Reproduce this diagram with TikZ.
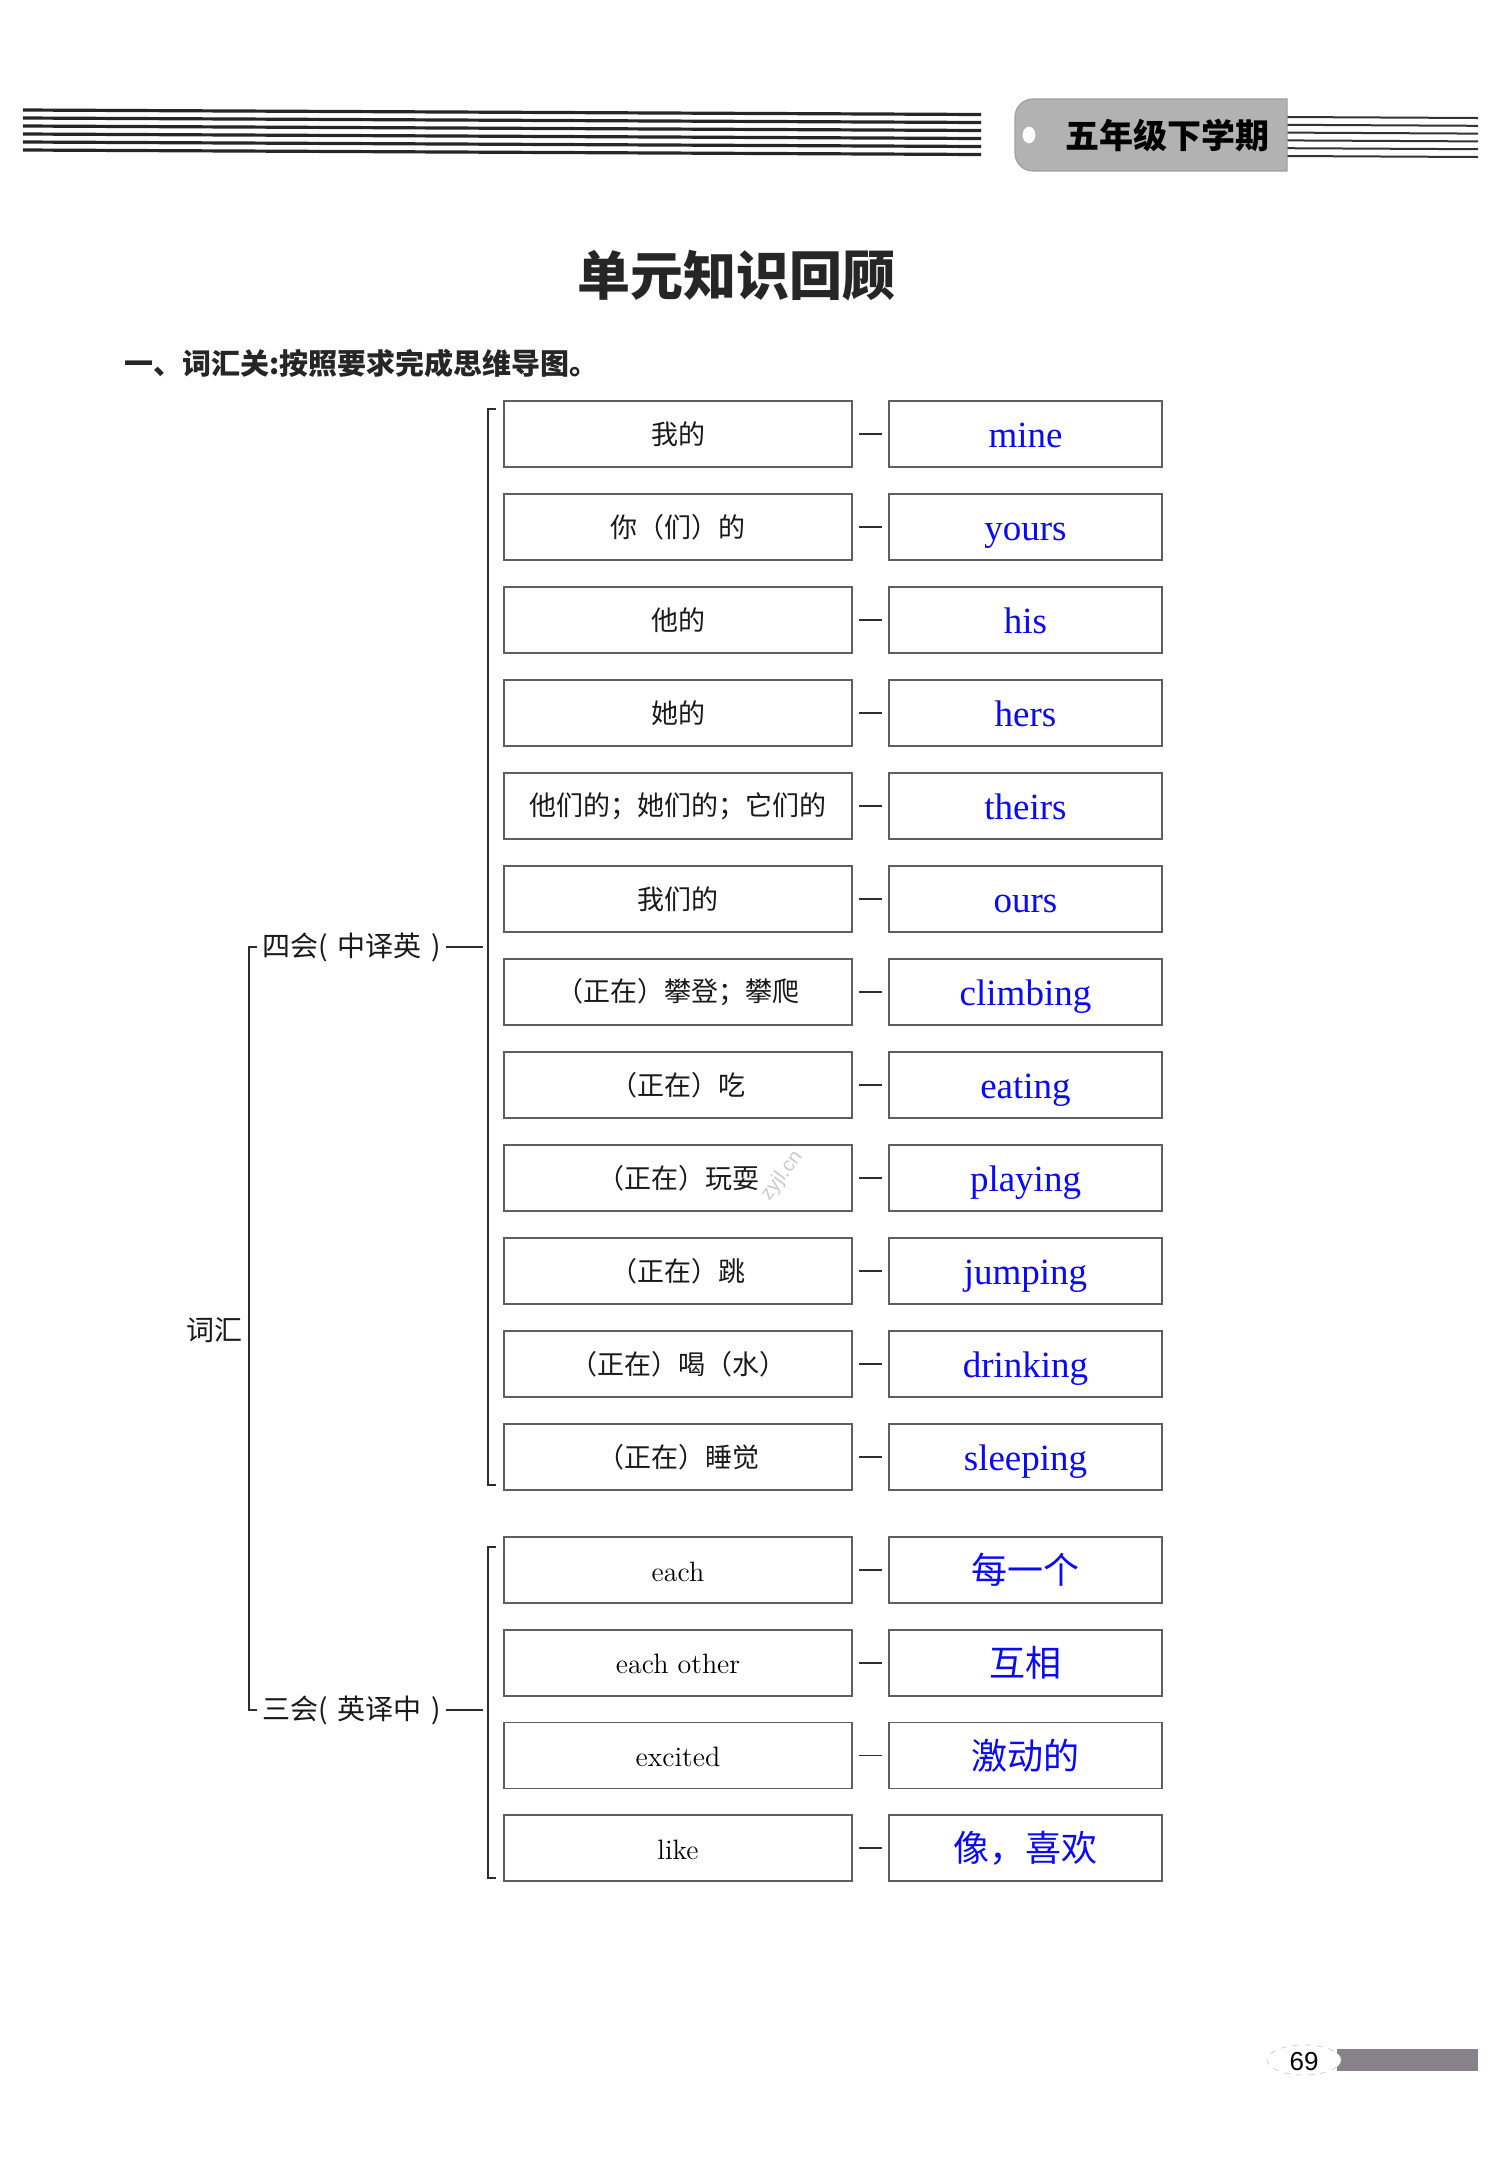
\documentclass[tikz,border=0pt]{standalone}
\usepackage{fontspec}
\newfontfamily\cjk{Noto Sans CJK SC}
\newfontfamily\tnr{Liberation Serif}
\newfontfamily\sansf{Liberation Sans}
\definecolor{ansblue}{RGB}{10,10,245}
\definecolor{boxc}{RGB}{95,95,95}
\definecolor{brkc}{RGB}{45,45,45}
\definecolor{tagc}{RGB}{178,178,178}
\definecolor{barc}{RGB}{135,130,138}
\begin{document}
\begin{tikzpicture}[x=0.5pt,y=-0.5pt,
  lbox/.style={draw=boxc, line width=0.8pt, minimum width=174pt, minimum height=33pt, inner sep=0pt},
  rbox/.style={draw=boxc, line width=0.8pt, minimum width=136.5pt, minimum height=33pt, inner sep=0pt},
  cn/.style={font=\cjk\fontsize{13.5pt}{16pt}\selectfont, text=black!90},
  en/.style={font=\fontsize{14pt}{16pt}\selectfont, text=black, text height=12pt, text depth=1pt},
  ans/.style={text=ansblue, font=\tnr\fontsize{18.5pt}{22pt}\selectfont, text height=15pt, text depth=2pt},
  ansc/.style={text=ansblue, font=\cjk\fontsize{18pt}{22pt}\selectfont},
  conn/.style={draw=brkc, line width=0.8pt},
  brk/.style={draw=brkc, line width=1pt},
  hline/.style={draw=black!85, line width=1.6pt},
  hline2/.style={draw=black!80, line width=1pt}
]
\useasboundingbox (0,0) rectangle (1500,2165);
\fill[white] (0,0) rectangle (1500,2165);

% ---------- header ----------
\foreach \k in {0,...,5}{
  \draw[hline] (23,{110+8*\k}) -- (981,{114.5+8*\k});
  \draw[hline2] (1287,{117+7.8*\k}) -- (1478,{118+7.8*\k});
}
\fill[tagc, draw=gray!75, line width=0.6pt]
  (1287,99) [rounded corners=9pt] -- (1015,99) -- (1015,171) [sharp corners] -- (1287,171) -- cycle;
\fill[white, draw=gray!60, line width=0.5pt] (1029,135) ellipse [x radius=3.5pt, y radius=4.5pt];
\node[font=\cjk\bfseries\fontsize{17pt}{20pt}\selectfont, inner sep=0pt] (tag) at (1167,135) {五年级下学期};

% ---------- titles ----------
\node[font=\cjk\bfseries\fontsize{26.5pt}{30pt}\selectfont, text=black!85] (title) at (736,276) {单元知识回顾};
\node[font=\cjk\bfseries\fontsize{14.5pt}{17pt}\selectfont, anchor=west, inner sep=0pt, text=black!85] (sub) at (124,363) {一、词汇关:按照要求完成思维导图。};

% ---------- group 1 ----------
\foreach \i/\a/\b in {1/我的/mine, 2/你（们）的/yours, 3/他的/his, 4/她的/hers,
  5/他们的；她们的；它们的/theirs, 6/我们的/ours, 7/（正在）攀登；攀爬/climbing,
  8/（正在）吃/eating, 9/（正在）玩耍/playing, 10/（正在）跳/jumping,
  11/（正在）喝（水）/drinking, 12/（正在）睡觉/sleeping}{
  \pgfmathsetmacro\yy{434+93*(\i-1)}
  \node[lbox, cn] (L\i) at (678,\yy) {\a};
  \node[rbox, ans] (R\i) at (1025.5,\yy) {\b};
  \draw[conn] ([xshift=3pt]L\i.east) -- ([xshift=-3pt]R\i.west);
}

% ---------- group 2 ----------
\foreach \i/\a/\b in {1/each/每一个, 2/each other/互相, 3/excited/激动的, 4/like/像，喜欢}{
  \pgfmathsetmacro\yy{1570+92.7*(\i-1)}
  \node[lbox, en] (P\i) at (678,\yy) {\a};
  \node[rbox, ansc] (Q\i) at (1025.5,\yy) {\b};
  \draw[conn] ([xshift=3pt]P\i.east) -- ([xshift=-3pt]Q\i.west);
}

% ---------- brackets ----------
\draw[brk] (496,409) -- (488,409) -- (488,1485) -- (496,1485);
\draw[brk] (496,1547) -- (488,1547) -- (488,1878) -- (496,1878);
\draw[brk] (257,947) -- (249,947) -- (249,1710) -- (257,1710);

\node[cn, font=\cjk\fontsize{14pt}{16pt}\selectfont, anchor=west, inner sep=0pt] (S4) at (262,947) {四会(\hspace{5pt}中译英\hspace{5pt})};
\node[cn, font=\cjk\fontsize{14pt}{16pt}\selectfont, anchor=west, inner sep=0pt] (S3) at (262,1710) {三会(\hspace{5pt}英译中\hspace{5pt})};
\coordinate (d4) at (483,947);
\coordinate (d3) at (483,1710);
\draw[conn] ([xshift=2pt]S4.east) -- (d4);
\draw[conn] ([xshift=2pt]S3.east) -- (d3);
\node[cn, font=\cjk\fontsize{14pt}{16pt}\selectfont, inner sep=0pt] (vocab) at (214,1330) {词汇};

% ---------- watermark ----------
\node[rotate=53, text=gray!40, font=\sansf\fontsize{10pt}{12pt}\selectfont, inner sep=0pt] (wm) at (782,1176) {zyjl.cn};

% ---------- page number ----------
\fill[barc] (1337,2049) rectangle (1478,2071);
\fill[white, draw=gray!35, dashed, line width=0.4pt] (1304,2060) ellipse [x radius=18.5pt, y radius=7.5pt];
\node[font=\sansf\fontsize{13pt}{15pt}\selectfont, inner sep=0pt] (pg) at (1304,2062) {69};
\end{tikzpicture}
\end{document}
